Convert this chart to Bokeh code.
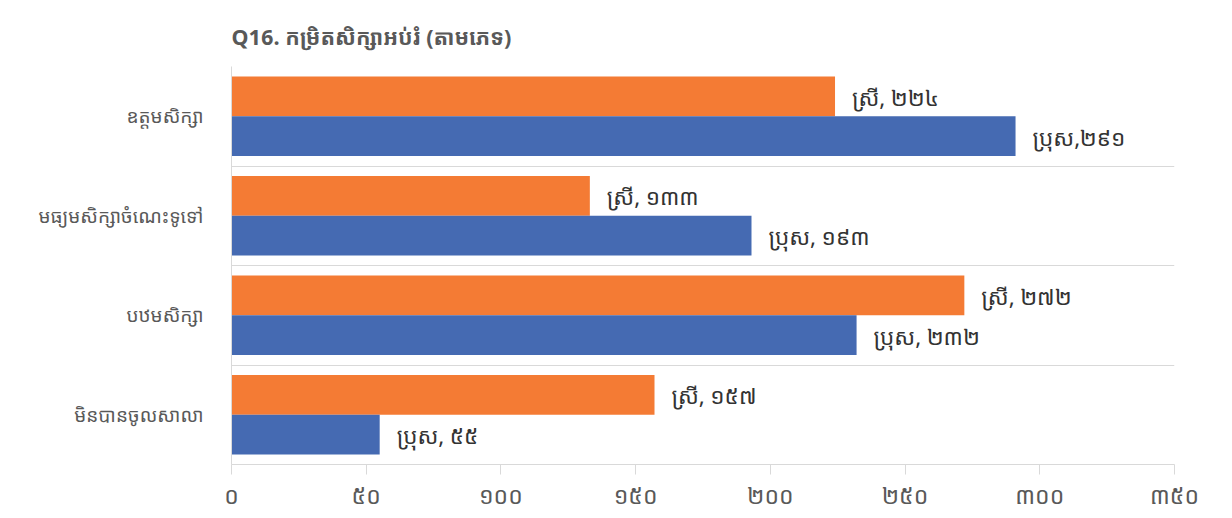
from bokeh.plotting import figure
from bokeh.models import FixedTicker, Range1d, ColumnDataSource
from bokeh.core.properties import value
from bokeh.embed import file_html
from bokeh.resources import INLINE

# ---- data ----
title_text = "Q16. កម្រិតសិក្សាអប់រំ (តាមភេទ)"
categories = ["ឧត្តមសិក្សា", "មធ្យមសិក្សាចំណេះទូទៅ", "បឋមសិក្សា", "មិនបានចូលសាលា"]
female = [224, 133, 272, 157]
male = [291, 193, 232, 55]
female_name = "ស្រី"
male_name = "ប្រុស"
female_sep = [", ", ", ", ", ", ", "]
male_sep = [",", ", ", ", ", ", "]
x_ticks = [0, 50, 100, 150, 200, 250, 300, 350]

KH = str.maketrans("0123456789", "០១២៣៤៥៦៧៨៩")
def kh(n):
    return str(n).translate(KH)

FONT = "'Noto Sans Khmer', 'Noto Sans', sans-serif"
ORANGE = "#F47B34"
BLUE = "#456AB2"
GRID = "#d9d9d9"
TXT = "#595959"

n = len(categories)
centers = [n - i - 0.5 for i in range(n)]

src_f = ColumnDataSource(dict(
    y=[c + 0.2 for c in centers], v=female,
    t=[female_name + s + kh(v) for s, v in zip(female_sep, female)]))
src_m = ColumnDataSource(dict(
    y=[c - 0.2 for c in centers], v=male,
    t=[male_name + s + kh(v) for s, v in zip(male_sep, male)]))

p = figure(frame_width=943, frame_height=398,
           x_range=Range1d(0, 350), y_range=Range1d(0, n),
           output_backend="svg", toolbar_location=None,
           min_border_left=231, min_border_right=30, min_border_top=66,
           min_border_bottom=0)

p.title.text = title_text
p.title.align = "left"
p.title.text_font = FONT
p.title.text_font_size = "21.5px"
p.title.text_font_style = "bold"
p.title.text_color = TXT
p.title.standoff = 31
p.title.offset = 0

p.hbar(y="y", right="v", left=0, height=0.4, source=src_f, color=ORANGE, line_color=None)
p.hbar(y="y", right="v", left=0, height=0.4, source=src_m, color=BLUE, line_color=None)

for src in (src_f, src_m):
    p.text(x="v", y="y", text="t", source=src, x_offset=17, y_offset=1,
           text_baseline="middle", text_align="left",
           text_font=value(FONT), text_font_size="22.5px", text_color="#333333")

# x axis
p.xaxis.ticker = FixedTicker(ticks=x_ticks)
p.xaxis.major_label_overrides = {t: kh(t) for t in x_ticks}
p.xaxis.axis_line_color = GRID
p.xaxis.major_tick_line_color = GRID
p.xaxis.major_tick_in = 0
p.xaxis.major_tick_out = 10
p.xaxis.minor_tick_line_color = None
p.xaxis.major_label_text_font = FONT
p.xaxis.major_label_text_font_size = "23px"
p.xaxis.major_label_text_color = TXT
p.xaxis.major_label_standoff = 4

# y axis
p.yaxis.ticker = FixedTicker(ticks=centers)
p.yaxis.major_label_overrides = {c: cat for c, cat in zip(centers, categories)}
p.yaxis.axis_line_color = GRID
p.yaxis.major_tick_line_color = None
p.yaxis.minor_tick_line_color = None
p.yaxis.major_label_text_font = FONT
p.yaxis.major_label_text_font_size = "19px"
p.yaxis.major_label_text_color = TXT
p.yaxis.major_label_standoff = 22

p.xgrid.visible = False
p.ygrid.ticker = FixedTicker(ticks=list(range(1, n + 1)))
p.ygrid.grid_line_color = GRID
p.outline_line_color = None

open("out.html", "w").write(file_html(p, INLINE))
